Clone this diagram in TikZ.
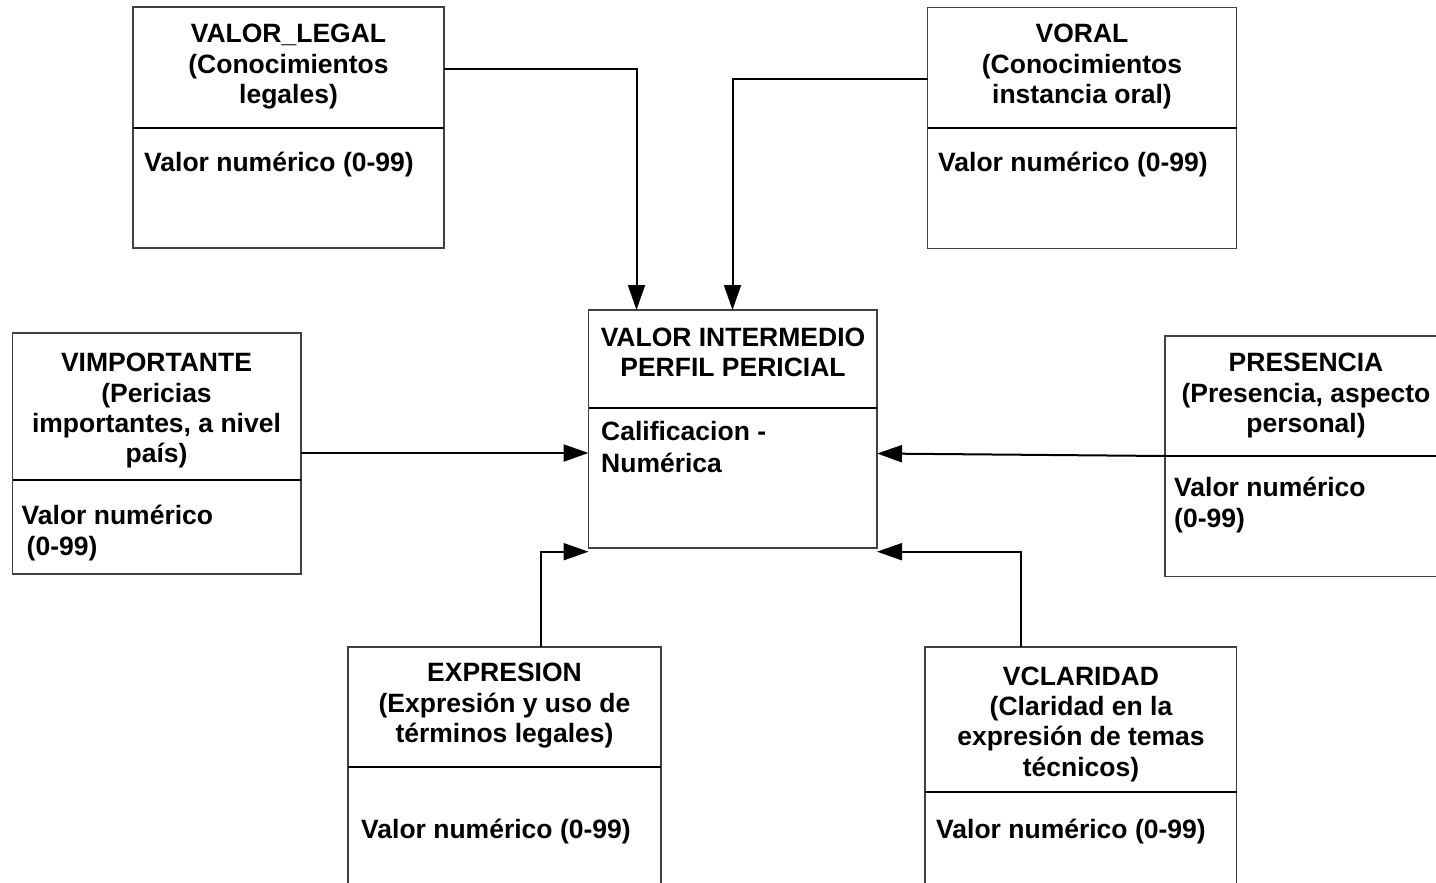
\documentclass[tikz,border=0pt]{standalone}
\usepackage{fontspec}
\setmainfont{Liberation Sans}
\usetikzlibrary{arrows.meta}
\begin{document}
\begin{tikzpicture}[x=1pt,y=-1pt,
  frame/.style={draw=black!75, line width=1.2pt, inner sep=0pt, outer sep=0pt, anchor=north west},
  divider/.style={line width=2pt, black},
  conn/.style={line width=2pt, black, -{Triangle[length=25pt,width=17pt]}},
  title/.style={inner sep=0pt, anchor=north, align=center, font=\fontsize{26.5}{30.3}\selectfont\bfseries},
  body/.style={inner sep=0pt, anchor=north west, align=left, font=\fontsize{26.5}{30.3}\selectfont\bfseries}]
\useasboundingbox (0,0) rectangle (1436,883);
\fill[white] (0,0) rectangle (1436,883);
\clip (0,0) rectangle (1436,883);

% frames
\node[frame, minimum width=311, minimum height=121] (legalH) at (133,7) {};
\node[frame, minimum width=311, minimum height=120] (legalL) at (legalH.south west) {};
\node[frame, minimum width=309, minimum height=120.5] (oralH) at (927.5,7.5) {};
\node[frame, minimum width=309, minimum height=120.5] (oralL) at (oralH.south west) {};
\node[frame, minimum width=288.5, minimum height=98] (centH) at (588.5,310) {};
\node[frame, minimum width=288.5, minimum height=140] (centL) at (centH.south west) {};
\node[frame, minimum width=288.5, minimum height=147] (impH) at (12.5,333) {};
\node[frame, minimum width=288.5, minimum height=94] (impL) at (impH.south west) {};
\node[frame, minimum width=284, minimum height=120] (presH) at (1165,336) {};
\node[frame, minimum width=284, minimum height=120.5] (presL) at (presH.south west) {};
\node[frame, minimum width=313, minimum height=120] (expH) at (348,647) {};
\node[frame, minimum width=313, minimum height=140] (expL) at (expH.south west) {};
\node[frame, minimum width=311.7, minimum height=144.7] (clarH) at (925,647) {};
\node[frame, minimum width=311.7, minimum height=120] (clarL) at (clarH.south west) {};

% dividers
\foreach \n in {legalH,oralH,centH,impH,presH,expH,clarH}
  \draw[divider] (\n.south west) -- (\n.south east);

% connectors
\coordinate (p1) at (636.5,69);
\coordinate (p2) at (732.5,79);
\coordinate (p3) at (0,453);
\coordinate (p4a) at (0,456);
\coordinate (p4b) at (0,453.5);
\coordinate (p5) at (540.5,551.7);
\coordinate (p6) at (1020.7,551.7);
\draw[conn] (legalH.east |- p1) -- (p1) -- (p1 |- centH.north);
\draw[conn] (oralH.west |- p2) -- (p2) -- (p2 |- centH.north);
\draw[conn] (impH.east |- p3) -- (centL.west |- p3);
\draw[conn] (presH.west |- p4a) -- (centL.east |- p4b);
\draw[conn] (p5 |- expH.north) -- (p5) -- (centL.west |- p5);
\draw[conn] (p6 |- clarH.north) -- (p6) -- (centL.east |- p6);

% titles
\node[title] (legalT) at (288.5,21.5) {\strut VALOR\_LEGAL\\\strut(Conocimientos\\\strut legales)};
\node[title] (oralT) at (1082,21.5) {\strut VORAL\\\strut(Conocimientos\\\strut instancia oral)};
\node[title] (centT) at (733,324.8) {\strut VALOR INTERMEDIO\\\strut PERFIL PERICIAL};
\node[title] (impT) at (156.5,350.5) {\strut VIMPORTANTE\\\strut(Pericias\\\strut importantes, a nivel\\\strut país)};
\node[title] (presT) at (1306,350.5) {\strut PRESENCIA\\\strut(Presencia, aspecto\\\strut personal)};
\node[title] (expT) at (504.5,660.5) {\strut EXPRESION\\\strut(Expresión y uso de\\\strut términos legales)};
\node[title] (clarT) at (1081,663.8) {\strut VCLARIDAD\\\strut(Claridad en la\\\strut expresión de temas\\\strut técnicos)};

% bodies
\node[body] (legalB) at (144,149.8) {\strut Valor numérico (0-99)};
\node[body] (oralB) at (938,149.8) {\strut Valor numérico (0-99)};
\node[body] (centB) at (601,418.8) {\strut Calificacion -\\[2pt]\strut Numérica};
\node[body] (impB) at (21.5,502.8) {\strut Valor numérico\\[0.7pt]\strut\hspace*{5pt}(0-99)};
\node[body] (presB) at (1174,475.5) {\strut Valor numérico\\\strut(0-99)};
\node[body] (expB) at (361,816.8) {\strut Valor numérico (0-99)};
\node[body] (clarB) at (936,817.1) {\strut Valor numérico (0-99)};
\end{tikzpicture}
\end{document}
